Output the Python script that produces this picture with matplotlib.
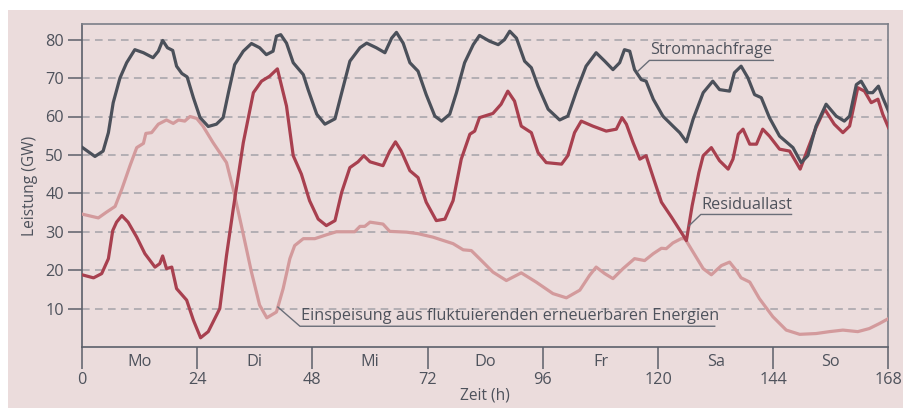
import matplotlib
matplotlib.use('Agg')
import matplotlib.pyplot as plt
from matplotlib.patches import Rectangle

plt.rcParams['font.family'] = ['Open Sans', 'DejaVu Sans']

# Data (hours, GW)
demand_h = [0, 2.7, 4.4, 5.5, 6.5, 7.9, 9.3, 11, 12.8, 14.8, 15.9, 16.8, 17.8, 18.9, 19.7, 20.8,
            21.9, 23.2, 24.6, 26.3, 28, 29.4, 30.5, 31.8, 33.6, 35.3, 37, 38.4, 39.8, 40.5, 41.4,
            42.6, 44, 46.1, 47.1, 48.9, 50.6, 52.7, 54.1, 55.8, 57.9, 59.3, 61.3, 63.1, 64.5,
            65.5, 66.9, 68.3, 70, 71.7, 73.5, 74.9, 76.6, 78, 79.7, 81.5, 82.8, 84.9, 86.7, 88,
            89.1, 90.5, 92.2, 93.6, 95, 97.1, 99.5, 101.2, 103, 105, 107.1, 108.9, 110.6, 112,
            113, 114.1, 115.1, 116.5, 117.5, 119, 121, 123.1, 124.5, 125.9, 127.3, 129.4, 131.4,
            132.8, 134.9, 135.9, 137.3, 138.7, 140.1, 141.5, 143.2, 145.3, 148.1, 149.8, 151.2,
            152.9, 155, 157.1, 158.8, 159.9, 161.3, 162.3, 163.7, 164.7, 165.9, 166.8, 168]
demand_gw = [52, 49.6, 51, 55.8, 63.6, 70, 74, 77.4, 76.6, 75.3, 77, 79.8, 77.9, 77.2, 73.1, 71.2,
             70.3, 64.9, 59.7, 57.4, 58, 59.7, 66.2, 73.5, 77, 79, 77.9, 76.1, 77, 80.9, 81.3,
             79.1, 74, 70.9, 67, 60.6, 58, 59.4, 66.2, 74.4, 77.9, 79.1, 77.9, 76.6, 80.4,
             81.9, 79.1, 74, 71.8, 65.7, 60.1, 58.8, 60.6, 66.2, 74, 78.7, 81.1, 79.6, 78.7, 80,
             82.2, 80.4, 74.4, 72.7, 67.9, 61.9, 59.1, 60.1, 66.6, 73.1, 76.6, 74.4, 72.2, 74,
             77.4, 77, 72.2, 69.6, 69.2, 64.5, 60.1, 57.5, 55.8, 53.4, 59.3, 66.2, 69.2,
             67, 66.6, 71.4, 73.1, 70.1, 65.7, 64.9, 59.7, 54.9, 51.9, 48, 49.8,
             57.5, 63.2, 60.1, 58.8, 60.1, 68.3, 69.2, 66.2, 66.2, 67.9, 64.9, 61.4]

resid_h = [0, 2.4, 4.1, 5.5, 6.4, 7.2, 8.3, 9.6, 11.4, 13.1, 15.2, 16.2, 16.8, 17.6, 18.7, 19.7,
           21.8, 23.2, 24.7, 26.3, 28.7, 30.1, 31.5, 33.6, 35.7, 37.4, 39.1, 40.7, 42.6, 44, 45.7,
           47.4, 49.2, 50.9, 52.7, 54.1, 55.8, 57.5, 58.7, 60, 62.7, 64.1, 65.3, 66.5, 68.3, 70,
           71.7, 73.8, 75.6, 77.3, 79, 80.8, 81.8, 82.8, 85.6, 87.3, 88.7, 90.1, 91.5, 93.6, 95,
           96.7, 99.9, 101.2, 102.6, 104, 106.4, 109.2, 111.3, 112.5, 113.4, 114.8, 116.2, 117.5,
           119, 120.7, 122.8, 124.8, 125.9, 127.1, 128.5, 129.4, 131.1, 132.8, 134.6, 135.6,
           136.7, 137.7, 139.1, 140.5, 141.8, 143.2, 145.3, 147.4, 149.6, 150.9, 152.9, 154.7,
           156.7, 158.5, 159.9, 161.6, 163, 164.4, 165.8, 166.8, 168]
resid_gw = [18.8, 18, 19.1, 23, 30.3, 32.5, 34.2, 32.5, 28.6, 24.3, 20.8, 21.7, 23.7, 20.4, 20.8, 15.2,
            12.2, 7, 2.4, 4, 10, 23.8, 35.9, 53.2, 66.2, 69.2, 70.5, 72.4, 62.7, 49.8, 45,
            38.1, 33.3, 31.6, 32.9, 40.3, 46.7, 48.2, 49.8, 48.2, 47.2, 51, 53.4, 51, 45.9, 44.1,
            37.7, 32.9, 33.3, 38.1, 48.9, 55.4, 56.2, 59.7, 60.8, 63.2, 66.6, 64, 57.5, 55.8, 50.6,
            48, 47.6, 49.8, 55.8, 58.8, 57.5, 56.2, 56.7, 59.7, 58, 53.2, 48.9, 49.8,
            44.1, 37.7, 33.8, 29.9, 27.7, 36.8, 45.4, 49.8, 51.9, 48.5, 46.3, 48.9,
            55.4, 56.7, 52.8, 52.8, 56.7, 54.9, 51.5, 51, 46.3, 50.6, 57.1, 61.9,
            58, 55.8, 57.5, 67.5, 66.6, 63.6, 64.5, 60.6, 57.1]

renew_h = [0, 3.4, 5.1, 6.9, 8.3, 10, 11.4, 12.8, 13.3, 14.5, 15.9, 17.6, 19, 20.1, 21.4, 22.5,
           23.9, 25.2, 27.3, 30.1, 31.5, 33.2, 35.3, 37, 38.5, 40.5, 41.9, 43.3, 44.3, 46.1, 48.5,
           50.9, 53, 56.8, 57.9, 58.9, 60, 62.7, 64.1, 67.6, 70, 73.1, 77.3, 79.4, 81.1, 82.8,
           85.6, 88.4, 91.5, 94.6, 98.1, 100.9, 103.7, 105.7, 107.1, 108.9, 110.6, 112.7, 115.1,
           117.2, 119, 120.7, 121.7, 123.1, 124.8, 125.6, 127.3, 129.4, 131.1, 133.2, 134.9,
           136.3, 137.3, 139.1, 141.1, 143.9, 146.7, 149.5, 152.9, 155.7, 158.5, 161.6, 164,
           166.1, 168]
renew_gw = [34.6, 33.6, 35.1, 36.6, 41.1, 47.2, 51.9, 53, 55.6, 55.8, 58, 59.1, 58.2, 59.1, 58.8, 60,
            59.5, 57.5, 53.2, 48, 41.1, 31.6, 19.5, 10.9, 7.6, 9.1, 15.2, 23, 26.4, 28.2, 28.2,
            29.2, 30, 30, 31.4, 31.4, 32.5, 32, 30.1, 29.9, 29.5, 28.6, 26.9, 25.3, 25.1, 23,
            19.5, 17.3, 19.3, 16.9, 13.9, 12.8, 14.8, 18.6, 20.8, 19.1, 17.8, 20.4, 23,
            22.5, 24.3, 25.7, 25.6, 27.1, 28.2, 28.2, 24.7, 20.4, 18.8, 21.2, 22.1,
            19.9, 18, 16.9, 12.6, 7.9, 4.4, 3.3, 3.5, 4, 4.4, 4, 4.8,
            6.1, 7.4]

days = ['Mo', 'Di', 'Mi', 'Do', 'Fr', 'Sa', 'So']
hour_ticks = [0, 24, 48, 72, 96, 120, 144, 168]
gw_ticks = [10, 20, 30, 40, 50, 60, 70, 80]

# label text, point on curve, elbow, end of underline
labels = [('Stromnachfrage', (115.8, 71.8), (118.2, 74.6), 144.0),
          ('Residuallast', (126.4, 31.5), (128.9, 34.5), 147.8),
          ('Einspeisung aus fluktuierenden erneuerbaren Energien', (40.8, 10.4), (45.4, 5.4), 131.8)]

bg = '#ebdcdc'
txt = '#4e525c'
spine = '#5c606a'
c_demand = '#4b505a'
c_resid = '#a8404f'
c_renew = '#d39a9c'
fs = 11.7

fig = plt.figure(figsize=(9.04, 4.08), dpi=100)
fig.patches.append(Rectangle((8 / 904, 0), 1, 1 - 10 / 408, transform=fig.transFigure,
                             facecolor=bg, edgecolor='none', zorder=-1))
ax = fig.add_axes([82 / 904, 1 - 347 / 408, (888.5 - 82) / 904, (347 - 24.3) / 408])
ax.set_zorder(1)
ax.set_facecolor('none')

ax.plot(renew_h, renew_gw, color=c_renew, lw=2.3, solid_joinstyle='round', zorder=3)
ax.plot(resid_h, resid_gw, color=c_resid, lw=2.3, solid_joinstyle='round', zorder=4)
ax.plot(demand_h, demand_gw, color=c_demand, lw=2.3, solid_joinstyle='round', zorder=5)

ax.set_xlim(0, 168)
ax.set_ylim(0, 84)
ax.set_xticks(hour_ticks)
ax.set_yticks(gw_ticks)
ax.tick_params(axis='x', length=15.5, width=1.1, color=spine, pad=2.5, labelsize=fs, labelcolor=txt)
ax.tick_params(axis='y', length=10, width=1.1, color=spine, pad=3, labelsize=fs, labelcolor=txt)
ax.grid(axis='y', linestyle=(0, (5, 3.5)), color='#a4a2a8', lw=1.1)
ax.set_axisbelow(True)

for s in ['left', 'bottom']:
    ax.spines[s].set_color(spine)
    ax.spines[s].set_linewidth(1.2)
for s in ['top', 'right']:
    ax.spines[s].set_color('#7c7f88')
    ax.spines[s].set_linewidth(1.2)

for i, d in enumerate(days):
    ax.text(12 + 24 * i, -0.045, d, transform=ax.get_xaxis_transform(), ha='center', va='center',
            fontsize=fs, color=txt)

ax.set_xlabel('Zeit (h)', fontsize=fs - 0.5, color=txt, labelpad=0)
ax.set_ylabel('Leistung (GW)', fontsize=fs - 0.5, color=txt, labelpad=5)

for text, p, elbow, end in labels:
    ax.plot([p[0], elbow[0], end], [p[1], elbow[1], elbow[1]], color='#6a6e78', lw=1.0, zorder=6)
    ax.text(elbow[0] + 0.2, elbow[1] + 0.5, text, fontsize=fs, color=txt, ha='left', va='bottom',
            zorder=7)

fig.savefig('out.png', dpi=100)
